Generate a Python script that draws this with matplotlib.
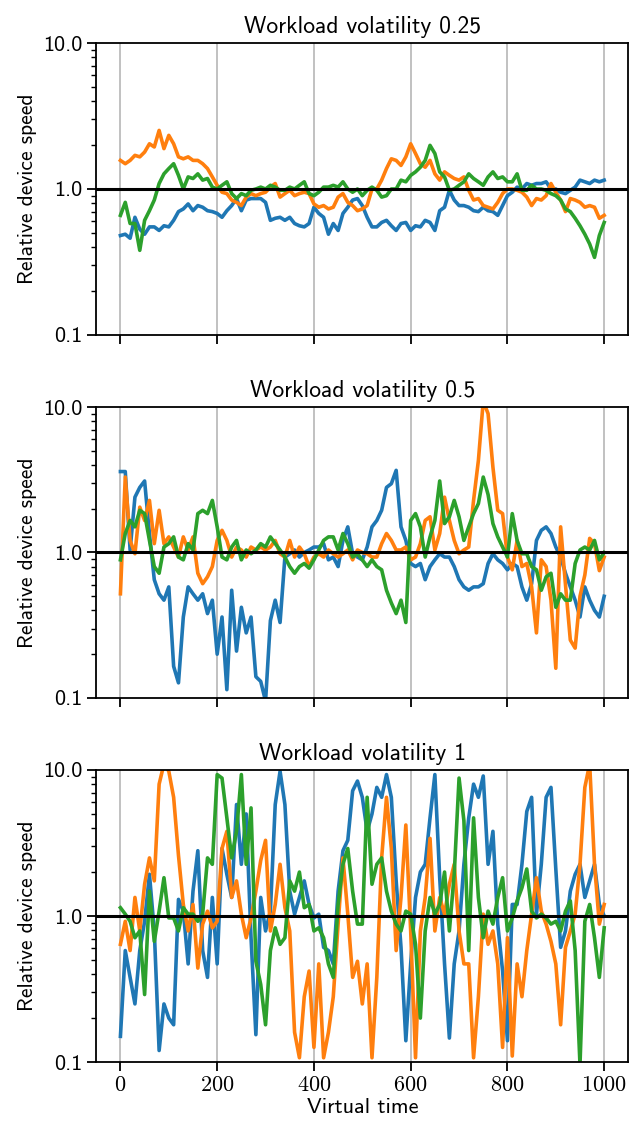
import numpy as np
import matplotlib.pyplot as plt
from matplotlib.ticker import NullFormatter, LogLocator

plt.rcParams['font.family'] = 'cmss10'
plt.rcParams['mathtext.fontset'] = 'cm'
plt.rcParams['axes.unicode_minus'] = False
plt.rcParams['axes.formatter.use_mathtext'] = True

# sampling times of the traces (every 10 units of virtual time)
time = np.arange(0, 1001, 10)

# volatility 0.25
p1_blue = [0.48, 0.49, 0.46, 0.64, 0.53, 0.49, 0.55, 0.55, 0.52, 0.56,
           0.55, 0.61, 0.70, 0.73, 0.79, 0.71, 0.77, 0.75, 0.71, 0.70,
           0.68, 0.64, 0.71, 0.77, 0.86, 0.71, 0.84, 0.86, 0.86, 0.86,
           0.81, 0.61, 0.63, 0.64, 0.61, 0.64, 0.58, 0.56, 0.55, 0.58,
           0.75, 0.68, 0.64, 0.49, 0.58, 0.52, 0.68, 0.75, 0.84, 0.86,
           0.77, 0.64, 0.55, 0.55, 0.59, 0.61, 0.56, 0.52, 0.58, 0.59,
           0.52, 0.56, 0.55, 0.61, 0.59, 0.52, 0.71, 0.75, 0.98, 0.84,
           0.77, 0.77, 0.75, 0.71, 0.70, 0.75, 0.71, 0.70, 0.66, 0.77,
           0.90, 0.95, 1.03, 1.00, 1.09, 1.06, 1.09, 1.09, 1.12, 1.00,
           1.00, 0.95, 0.93, 0.98, 1.03, 1.15, 1.12, 1.09, 1.15, 1.12,
           1.15]
p1_orange = [1.57, 1.49, 1.57, 1.70, 1.66, 1.79, 2.04, 1.94, 2.52, 1.89,
             2.33, 2.04, 1.66, 1.61, 1.66, 1.57, 1.57, 1.49, 1.38, 1.21,
             1.06, 0.95, 0.93, 0.84, 0.81, 0.77, 0.88, 0.93, 0.90, 0.93,
             0.95, 1.03, 1.09, 0.88, 0.93, 0.98, 0.90, 0.93, 0.95, 0.93,
             0.79, 0.75, 0.77, 0.73, 0.75, 0.88, 0.93, 0.81, 0.77, 0.71,
             0.73, 0.77, 1.00, 1.00, 1.15, 1.38, 1.61, 1.57, 1.45, 1.66,
             2.04, 1.75, 1.49, 1.41, 1.57, 1.27, 1.15, 1.31, 1.24, 1.18,
             1.15, 1.21, 0.98, 0.84, 0.86, 0.77, 0.75, 0.73, 0.81, 0.93,
             1.00, 1.00, 0.98, 0.95, 0.88, 0.77, 0.86, 0.84, 0.90, 1.09,
             0.95, 0.84, 0.70, 0.86, 0.84, 0.81, 0.75, 0.77, 0.75, 0.63,
             0.66]
p1_green = [0.66, 0.81, 0.58, 0.58, 0.38, 0.61, 0.71, 0.84, 1.09, 1.27,
            1.38, 1.49, 1.24, 1.00, 1.21, 1.18, 1.27, 1.15, 1.18, 1.03,
            1.00, 1.06, 1.12, 0.93, 0.86, 0.93, 0.90, 0.98, 1.00, 1.03,
            1.00, 1.06, 1.03, 0.98, 0.98, 1.03, 1.00, 1.06, 1.12, 0.93,
            0.90, 0.95, 1.03, 1.03, 1.06, 1.03, 1.12, 1.00, 0.95, 1.00,
            0.90, 0.98, 1.03, 0.98, 0.88, 0.90, 1.00, 1.00, 1.15, 1.12,
            1.24, 1.31, 1.41, 1.57, 1.99, 1.75, 1.31, 1.21, 0.98, 1.00,
            1.06, 1.12, 1.27, 1.18, 1.12, 1.06, 1.21, 1.31, 1.18, 1.21,
            1.12, 1.12, 1.27, 0.98, 0.98, 1.06, 1.00, 1.00, 0.98, 0.93,
            0.90, 0.84, 0.73, 0.70, 0.63, 0.56, 0.49, 0.42, 0.34, 0.48,
            0.59]

# volatility 0.5
p2_blue = [3.6, 3.6, 1.04, 2.4, 2.8, 3.1, 1.35, 0.65, 0.52, 0.47,
           0.58, 0.165, 0.127, 0.36, 0.58, 0.52, 0.47, 0.52, 0.38, 0.47,
           0.20, 0.36, 0.114, 0.55, 0.21, 0.42, 0.28, 0.36, 0.14, 0.13,
           0.095, 0.34, 0.47, 0.33, 0.93, 0.98, 1.04, 0.93, 1.00, 1.04,
           1.09, 1.09, 1.15, 0.89, 0.93, 0.80, 1.21, 1.5, 0.98, 0.93,
           0.89, 1.09, 1.5, 1.66, 1.95, 2.8, 2.97, 3.67, 1.5, 1.21,
           0.84, 0.80, 0.84, 0.65, 0.80, 0.89, 0.98, 0.93, 0.93, 0.80,
           0.65, 0.58, 0.55, 0.58, 0.58, 0.61, 0.84, 0.98, 0.89, 0.84,
           0.76, 0.84, 0.80, 0.58, 0.47, 0.61, 1.21, 1.42, 1.5, 1.35,
           1.09, 0.93, 0.72, 0.58, 0.47, 0.36, 0.58, 0.47, 0.40, 0.36,
           0.50]
p2_orange = [0.52, 3.3, 1.21, 0.98, 2.05, 1.66, 2.28, 1.15, 1.95, 1.15,
             1.28, 1.09, 0.93, 1.28, 1.04, 1.28, 0.72, 0.61, 0.68, 0.80,
             1.21, 1.42, 1.21, 0.93, 1.09, 1.04, 0.93, 1.09, 1.04, 1.09,
             1.04, 1.09, 1.21, 0.98, 0.93, 1.21, 0.93, 1.09, 0.98, 0.80,
             0.93, 0.98, 0.93, 1.04, 0.98, 0.93, 0.98, 1.04, 0.89, 1.04,
             1.00, 0.98, 0.93, 0.93, 1.15, 1.35, 1.21, 1.04, 1.04, 1.09,
             0.89, 0.93, 1.15, 1.66, 1.76, 1.04, 1.35, 2.4, 1.66, 1.21,
             0.98, 1.04, 1.09, 2.28, 4.3, 11.0, 9.0, 3.86, 1.95, 1.85,
             0.93, 0.76, 1.21, 0.80, 0.84, 0.58, 0.28, 0.89, 0.80, 0.47,
             0.16, 1.5, 0.6, 0.25, 0.22, 0.5, 0.7, 1.25, 1.15, 0.75,
             0.93]
p2_green = [0.89, 1.35, 1.66, 1.5, 1.95, 1.85, 1.21, 0.80, 0.72, 1.09,
            1.15, 1.28, 0.93, 0.89, 1.15, 1.04, 1.85, 1.95, 1.85, 2.28,
            1.5, 0.93, 0.89, 1.09, 1.21, 0.89, 1.04, 0.98, 1.04, 1.15,
            1.09, 1.28, 1.15, 1.04, 0.93, 0.80, 0.72, 0.80, 0.84, 0.78,
            0.89, 1.04, 1.21, 1.28, 1.28, 1.04, 1.35, 1.15, 0.93, 0.98,
            0.89, 0.80, 0.89, 0.80, 0.76, 0.55, 0.45, 0.38, 0.47, 0.33,
            1.66, 1.85, 1.5, 0.93, 1.28, 1.66, 3.1, 1.58, 1.76, 2.28,
            1.76, 1.21, 1.5, 1.85, 2.17, 3.3, 2.5, 1.58, 1.28, 1.09,
            0.93, 1.85, 1.21, 0.98, 0.98, 0.80, 0.76, 0.55, 0.68, 0.72,
            0.42, 0.52, 0.47, 0.47, 0.84, 1.04, 1.09, 1.04, 1.21, 0.89,
            1.0]

# volatility 1
p3_blue = [0.15, 0.58, 0.38, 0.25, 0.58, 0.92, 1.93, 0.79, 0.12, 0.25,
           0.20, 0.18, 1.3, 1.08, 0.47, 1.48, 2.8, 0.58, 0.38, 1.34,
           0.47, 2.9, 1.93, 1.34, 5.8, 2.26, 5.0, 0.71, 0.154, 1.34,
           0.79, 1.08, 5.8, 9.8, 5.8, 1.48, 1.03, 1.34, 1.74, 1.2,
           0.97, 1.03, 0.61, 0.58, 0.47, 1.48, 2.8, 3.3, 7.2, 8.4,
           6.5, 3.8, 5.0, 7.6, 6.5, 9.3, 6.5, 1.74, 0.61, 0.14,
           0.47, 1.34, 2.0, 2.26, 4.7, 9.3, 1.83, 0.47, 0.146, 0.47,
           0.79, 2.26, 4.7, 8.0, 6.5, 9.1, 2.26, 3.8, 0.88, 0.42,
           0.14, 1.2, 1.2, 2.26, 5.2, 6.5, 1.03, 2.26, 6.5, 7.6,
           2.1, 0.61, 0.79, 1.48, 1.93, 2.26, 1.34, 1.74, 2.26, 1.2,
           1.0]
p3_orange = [0.64, 0.92, 0.58, 1.34, 0.79, 1.65, 2.5, 1.74, 8.0, 11.0,
             9.8, 6.5, 2.6, 1.2, 0.79, 1.2, 0.44, 0.88, 1.08, 0.83,
             0.92, 2.9, 3.8, 1.34, 1.74, 1.03, 0.71, 0.97, 1.48, 2.4,
             3.3, 0.79, 1.2, 2.26, 1.14, 0.79, 0.16, 0.107, 0.28, 0.42,
             0.126, 0.47, 0.107, 0.16, 0.28, 0.88, 2.5, 1.03, 0.38, 0.49,
             0.25, 0.47, 0.107, 0.38, 2.5, 6.5, 2.9, 0.58, 1.34, 4.2,
             0.79, 0.107, 0.79, 1.34, 3.4, 0.79, 1.34, 1.03, 1.65, 2.26,
             0.79, 0.47, 0.47, 0.107, 0.28, 1.03, 0.64, 0.79, 0.47, 0.126,
             0.71, 0.11, 0.47, 0.28, 0.58, 1.03, 1.83, 1.08, 0.88, 0.67,
             0.47, 0.18, 0.61, 0.79, 1.03, 2.26, 7.6, 11.0, 2.26, 0.88,
             1.2]
p3_green = [1.14, 1.03, 0.92, 0.71, 0.79, 0.29, 1.48, 0.67, 1.08, 1.83,
            0.97, 0.97, 0.79, 1.14, 1.03, 1.03, 0.92, 1.03, 2.5, 2.26,
            9.3, 8.8, 4.7, 2.5, 3.8, 9.3, 2.26, 5.5, 0.49, 0.34,
            0.18, 0.58, 0.83, 0.64, 0.71, 1.74, 1.48, 2.0, 1.14, 1.2,
            0.79, 0.83, 0.71, 0.47, 0.38, 1.2, 2.26, 2.9, 1.48, 0.88,
            0.88, 6.5, 1.65, 2.26, 2.5, 1.48, 1.08, 0.88, 0.79, 1.08,
            1.03, 0.64, 0.2, 0.79, 1.34, 1.03, 1.2, 2.0, 0.79, 1.93,
            8.8, 4.5, 0.58, 4.7, 1.34, 0.71, 1.08, 0.88, 1.34, 1.83,
            0.79, 0.97, 1.27, 1.56, 2.1, 1.08, 0.97, 1.03, 0.97, 0.88,
            0.92, 0.79, 1.08, 1.27, 0.58, 0.096, 0.92, 1.2, 0.71, 0.38,
            0.83]

titles = ['Workload volatility 0.25', 'Workload volatility 0.5', 'Workload volatility 1']
panels = [(p1_blue, p1_orange, p1_green),
          (p2_blue, p2_orange, p2_green),
          (p3_blue, p3_orange, p3_green)]
colors = ['#1f77b4', '#ff7f0e', '#2ca02c']
xticks = [0, 200, 400, 600, 800, 1000]

fig = plt.figure(figsize=(6.29, 11.29), dpi=100)
boxes = [[0.153, 0.7033, 0.846, 0.2586],
         [0.153, 0.3818, 0.846, 0.2577],
         [0.153, 0.0593, 0.846, 0.2587]]

for i, box in enumerate(boxes):
    ax = fig.add_axes(box)
    for series, c in zip(panels[i], colors):
        ax.plot(time, series, color=c, lw=2.6)
    ax.axhline(1.0, color='black', lw=2.2, zorder=5)
    ax.set_yscale('log')
    ax.set_ylim(0.1, 10)
    ax.set_xlim(-50, 1050)
    ax.set_yticks([0.1, 1, 10])
    ax.set_yticklabels(['0.1', '1.0', '10.0'])
    ax.yaxis.set_minor_locator(LogLocator(subs=np.arange(2, 10)))
    ax.yaxis.set_minor_formatter(NullFormatter())
    ax.set_xticks(xticks)
    ax.grid(axis='x', color='#b0b0b0', lw=1.1)
    for s in ax.spines.values():
        s.set_linewidth(1.3)
    ax.tick_params(which='major', length=6.5, width=1.3, labelsize=16)
    ax.tick_params(which='minor', length=3.5, width=1.0)
    ax.set_title(titles[i], fontsize=17, pad=7)
    ax.set_ylabel('Relative device speed', fontsize=15.5)
    if i < 2:
        ax.tick_params(labelbottom=False)
    else:
        ax.set_xticklabels(['$%d$' % x for x in xticks])
        ax.set_xlabel('Virtual time', fontsize=16, labelpad=2)

fig.savefig('out.png', dpi=100)
